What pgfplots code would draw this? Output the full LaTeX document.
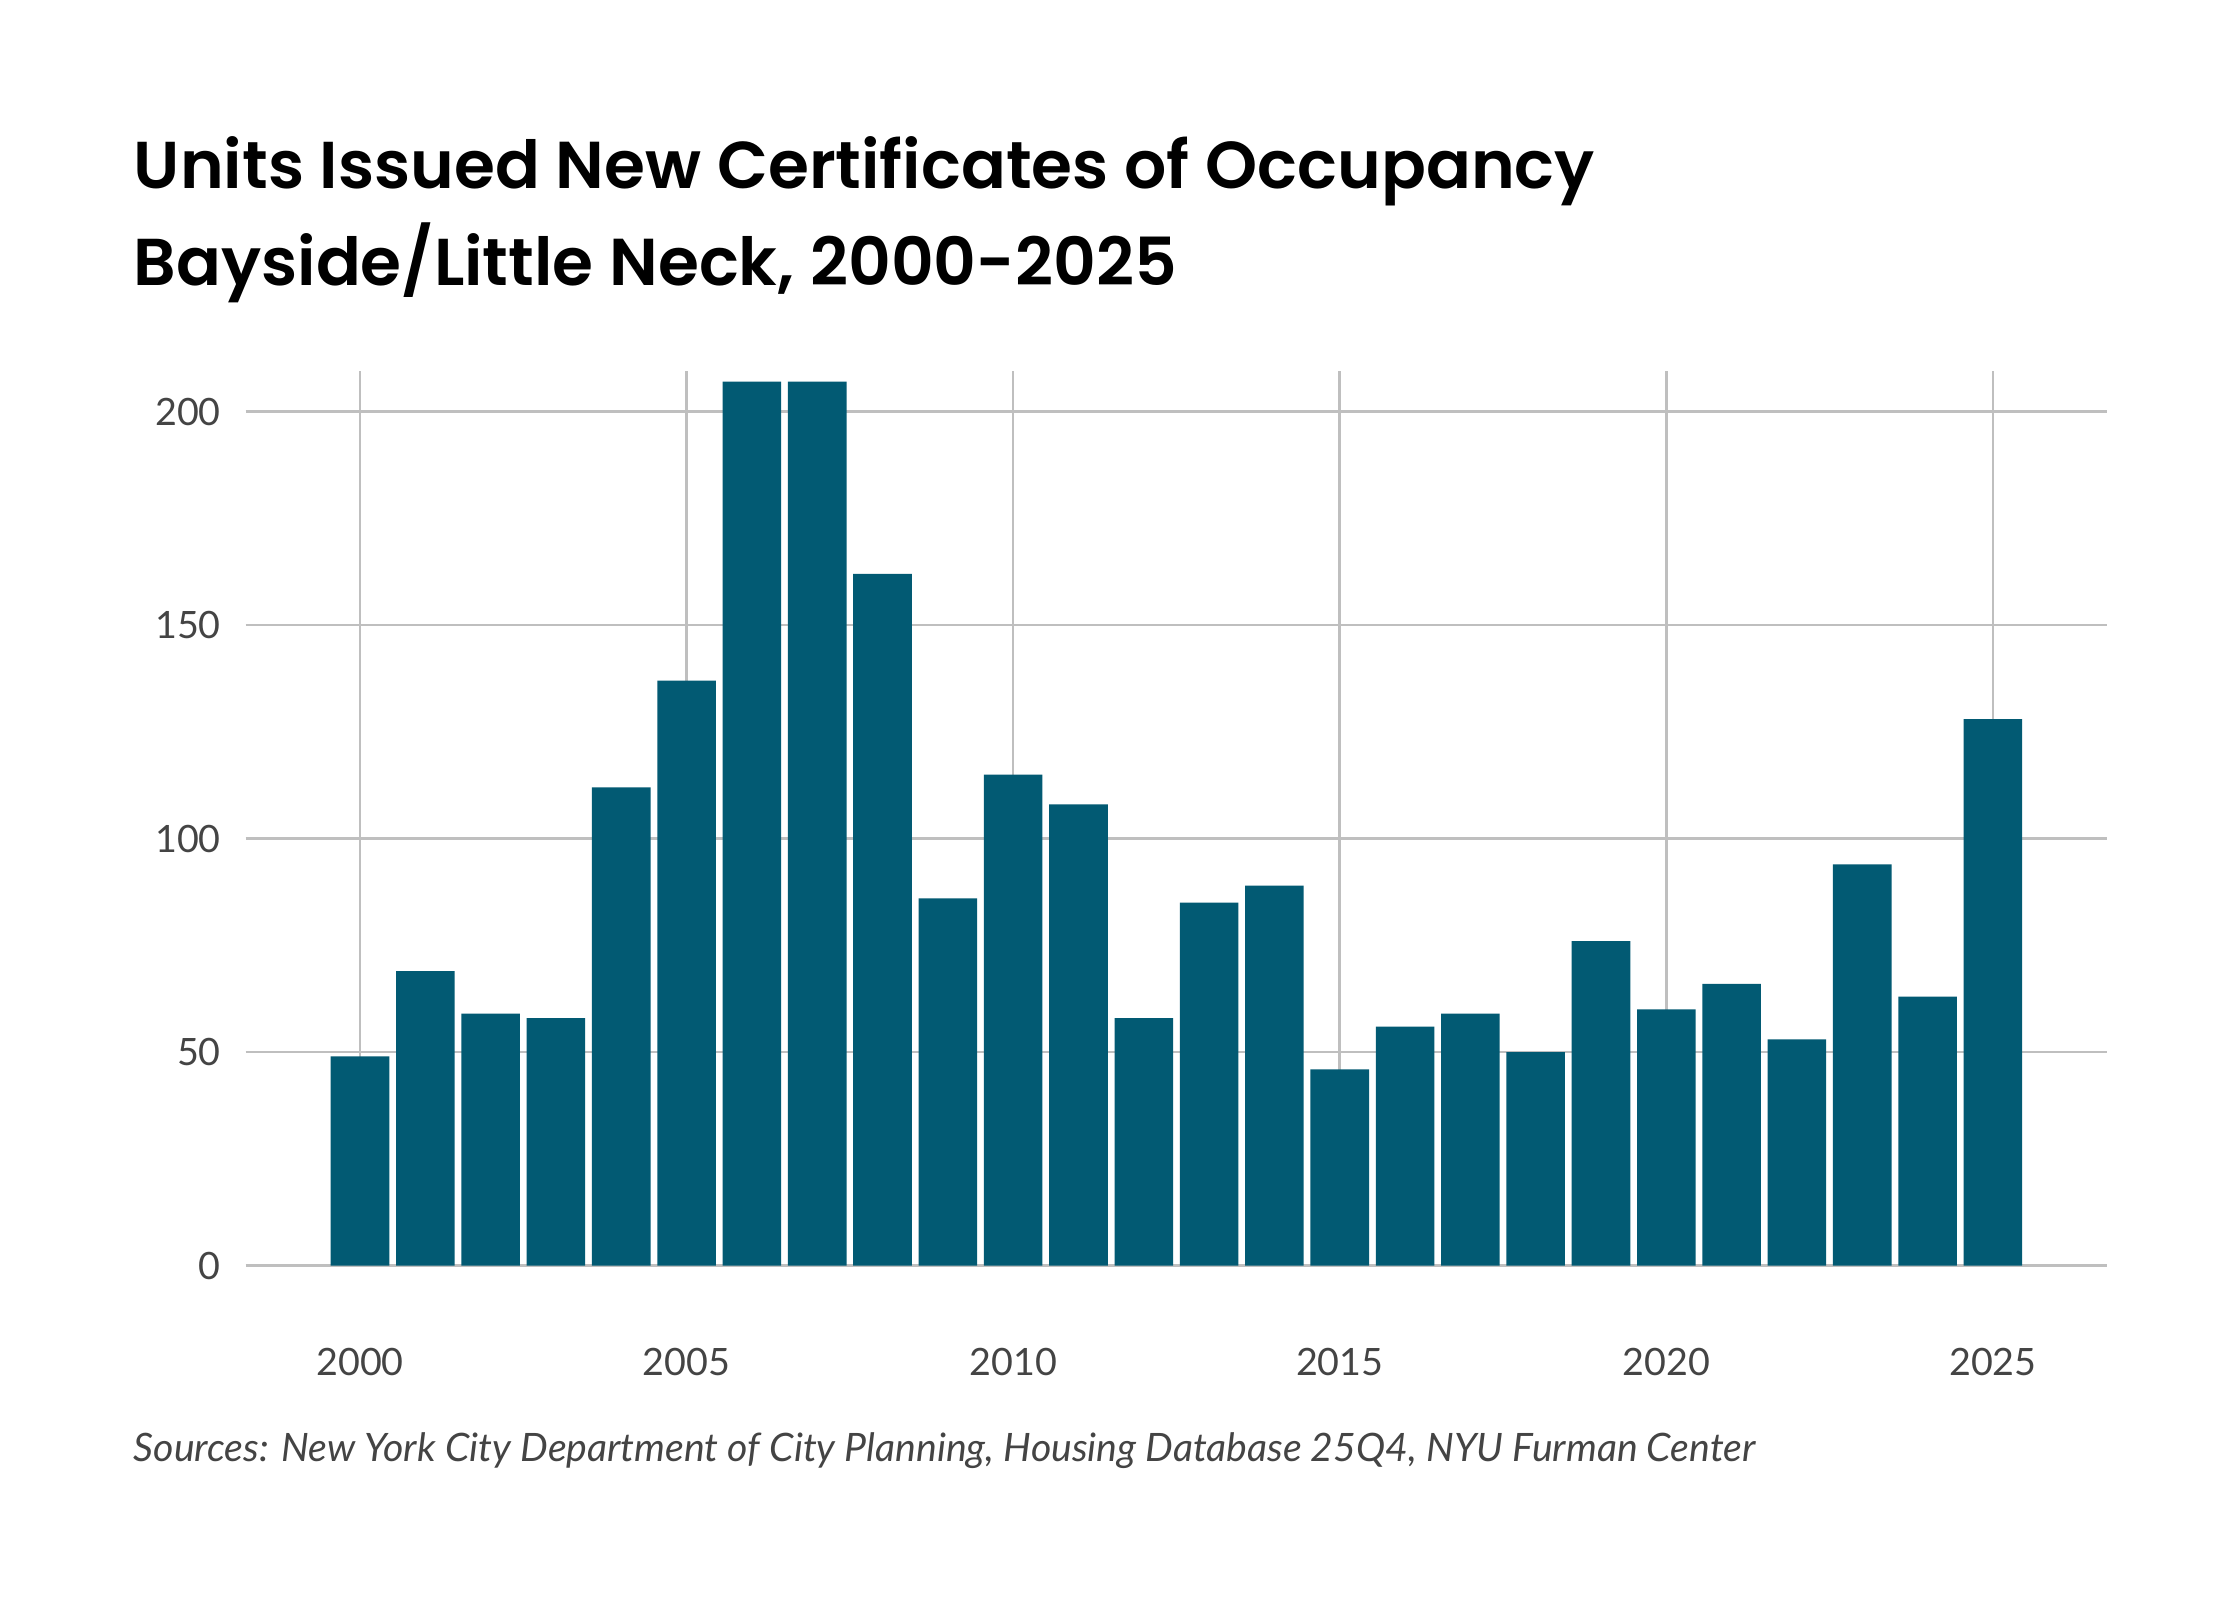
\documentclass[border=0pt]{standalone}
\usepackage{pgfplots}
\pgfplotsset{compat=1.18}
\usepackage{fontspec}
\setmainfont{Lato}
\newfontfamily\titlefont{Poppins SemiBold}
\definecolor{bar}{HTML}{025A73}
\definecolor{grid}{HTML}{CCCCCC}
\definecolor{txt}{HTML}{444444}
\begin{document}
\begin{tikzpicture}[x=1cm,y=1cm]
\path[fill=white] (0,0) rectangle (15.68,11.2);
\node[anchor=base west,inner sep=0,font=\titlefont\fontsize{13.2}{16}\selectfont] at (0.93,9.88) {Units Issued New Certificates of Occupancy};
\node[anchor=base west,inner sep=0,font=\titlefont\fontsize{13.2}{16}\selectfont] at (0.93,9.20) {Bayside/Little Neck, 2000-2025};
\node[anchor=base west,inner sep=0,text=txt,font=\itshape\fontsize{7.8}{9}\selectfont] at (0.93,0.97) {Sources: New York City Department of City Planning, Housing Database 25Q4, NYU Furman Center};
\begin{axis}[at={(1.72cm,2.34cm)},anchor=south west,scale only axis,
width=13.03cm,height=6.26cm,
xmin=1998.25,xmax=2026.75,ymin=0,ymax=209.4,
axis line style={draw=none},
ytick={0,50,100,150,200},
xtick={2000,2005,2010,2015,2020,2025},
xticklabel style={/pgf/number format/1000 sep={},yshift=-0.45cm,text=txt,font=\fontsize{7.5}{8}\selectfont},
yticklabel style={text=txt,font=\fontsize{7.5}{8}\selectfont,xshift=-0.05cm},
/pgf/number format/assume math mode=true,
ymajorgrids, grid style={grid,line width=0.5pt},
major tick length=0pt,
]
\addplot[ybar,bar width=0.41cm,fill=bar,draw=none] coordinates {
(2000,49)(2001,69)(2002,59)(2003,58)(2004,112)(2005,137)(2006,207)(2007,207)
(2008,162)(2009,86)(2010,115)(2011,108)(2012,58)(2013,85)(2014,89)(2015,46)
(2016,56)(2017,59)(2018,50)(2019,76)(2020,60)(2021,66)(2022,53)(2023,94)
(2024,63)(2025,128)};
\end{axis}
\end{tikzpicture}
\end{document}
